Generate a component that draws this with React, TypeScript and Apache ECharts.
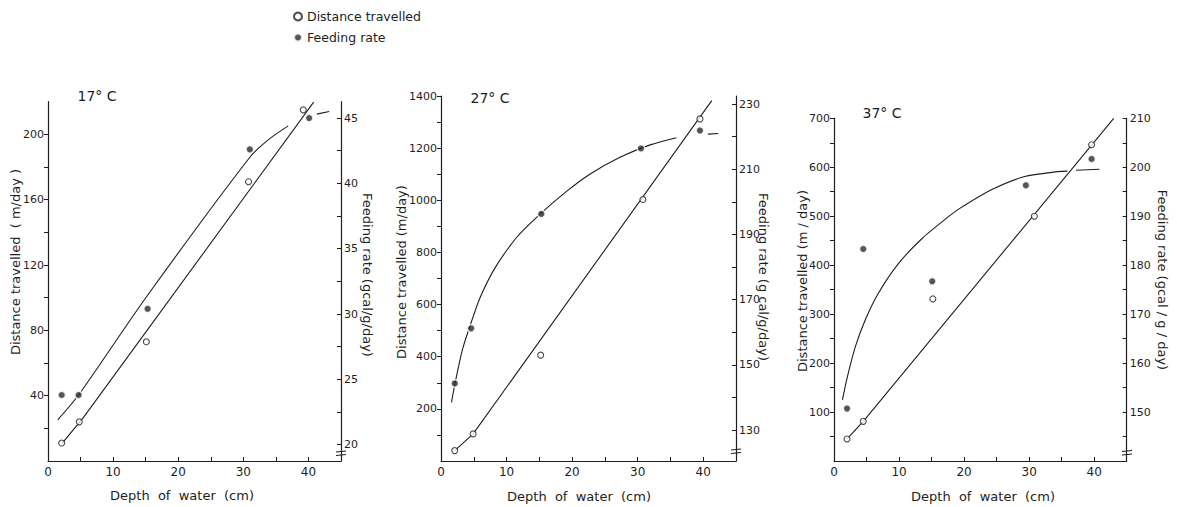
import React, { useEffect, useRef } from "react";
import * as echarts from "echarts";

type Pt = [number, number];

// Depth of water (cm) vs. distance travelled (m/day) — open circles
const dist17: Pt[] = [[2.1, 11], [4.8, 24], [15.1, 73], [30.8, 171], [39.2, 215]];
const dist27: Pt[] = [[2.1, 40], [4.9, 104], [15.2, 406], [30.8, 1003], [39.5, 1312]];
const dist37: Pt[] = [[2.0, 45], [4.5, 81], [15.2, 331], [30.8, 500], [39.6, 646]];

// Depth of water (cm) vs. feeding rate (gcal/g/day) — filled circles
const feed17: Pt[] = [[2.1, 23.8], [4.7, 23.8], [15.3, 30.4], [31.0, 42.6], [40.1, 45.0]];
const feed27: Pt[] = [[2.1, 144.3], [4.6, 161.2], [15.3, 196.3], [30.5, 216.4], [39.5, 221.9]];
const feed37: Pt[] = [[2.0, 150.7], [4.5, 183.3], [15.1, 176.7], [29.5, 196.3], [39.6, 201.7]];

// Hand-fitted curves (each inner list is one drawn stroke)
const distFit17: Pt[][] = [[[2.1, 10.5], [5.4, 26.4], [40.8, 219.7]]];
const distFit27: Pt[][] = [[[2.1, 40], [4.9, 104], [41.3, 1382]]];
const distFit37: Pt[][] = [[[2.0, 45], [4.5, 81], [43.0, 700]]];

const feedFit17: Pt[][] = [
  [[1.5, 21.9], [4.7, 23.8], [15.1, 31.3], [31.0, 42.0], [34.0, 43.4], [36.9, 44.4]],
  [[41.3, 45.3], [43.2, 45.5]],
];
const feedFit27: Pt[][] = [
  [[1.6, 138.5], [2.2, 144.9], [3.3, 154.9], [4.6, 163.0], [6.0, 170.8], [8.2, 179.6],
   [11.5, 189.0], [15.2, 196.4], [19.2, 203.3], [22.7, 208.5], [27.3, 213.7],
   [31.9, 217.5], [35.9, 219.7]],
  [[40.7, 220.8], [42.3, 221.0]],
];
const feedFit37: Pt[][] = [
  [[1.3, 152.5], [2.0, 156.9], [3.3, 163.4], [4.8, 168.8], [6.8, 174.2], [9.9, 180.3],
   [13.5, 185.4], [17.5, 189.8], [19.1, 191.4], [24.2, 195.4], [29.3, 198.1],
   [34.4, 199.1], [35.9, 199.2]],
  [[37.2, 199.4], [40.8, 199.6]],
];

// Axis ticks and labels
const depthTicks = [0, 5, 10, 15, 20, 25, 30, 35, 40];
const depthLabels = [0, 10, 20, 30, 40];

const distTicks17 = [20, 40, 60, 80, 100, 120, 140, 160, 180, 200];
const distLabels17 = [40, 80, 120, 160, 200];
const feedTicks17 = [20, 22.5, 25, 27.5, 30, 32.5, 35, 37.5, 40, 42.5, 45];
const feedLabels17 = [20, 25, 30, 35, 40, 45];

const distTicks27 = [100, 200, 300, 400, 500, 600, 700, 800, 900, 1000, 1100, 1200, 1300, 1400];
const distLabels27 = [200, 400, 600, 800, 1000, 1200, 1400];
const feedTicks27 = [130, 140, 150, 160, 170, 180, 190, 200, 210, 220, 230];
const feedLabels27 = [130, 150, 170, 190, 210, 230];

const distTicks37 = [50, 100, 150, 200, 250, 300, 350, 400, 450, 500, 550, 600, 650, 700];
const distLabels37 = [100, 200, 300, 400, 500, 600, 700];
const feedTicks37 = [145, 150, 155, 160, 165, 170, 175, 180, 185, 190, 195, 200, 205, 210];
const feedLabels37 = [150, 160, 170, 180, 190, 200, 210];

const FONT = "DejaVu Sans";
const INK = "#1e1e1e";

interface Panel {
  title: string;
  grid: { left: number; top: number; width: number; height: number };
  distMax: number;
  feedMin: number;
  feedMax: number;
  distTicks: number[];
  distLabels: number[];
  feedTicks: number[];
  feedLabels: number[];
  dist: Pt[];
  feed: Pt[];
  distFit: Pt[][];
  feedFit: Pt[][];
  titlePos: [number, number];
  leftName: string;
  leftNamePos: [number, number];
  rightName: string;
  rightNamePos: [number, number];
  xNamePos: [number, number];
}

const panels: Panel[] = [
  {
    title: "17° C",
    grid: { left: 48, top: 101.7, width: 293, height: 359.3 },
    distMax: 220, feedMin: 18.75, feedMax: 46.25,
    distTicks: distTicks17, distLabels: distLabels17,
    feedTicks: feedTicks17, feedLabels: feedLabels17,
    dist: dist17, feed: feed17, distFit: distFit17, feedFit: feedFit17,
    titlePos: [97, 96],
    leftName: "Distance travelled  ( m/day )", leftNamePos: [15, 262],
    rightName: "Feeding rate (gcal/g/day)", rightNamePos: [367, 275],
    xNamePos: [182, 495],
  },
  {
    title: "27° C",
    grid: { left: 441, top: 96, width: 295, height: 365 },
    distMax: 1400, feedMin: 120.5, feedMax: 232.5,
    distTicks: distTicks27, distLabels: distLabels27,
    feedTicks: feedTicks27, feedLabels: feedLabels27,
    dist: dist27, feed: feed27, distFit: distFit27, feedFit: feedFit27,
    titlePos: [490, 98],
    leftName: "Distance travelled (m/day)", leftNamePos: [401, 272],
    rightName: "Feeding rate (g cal/g/day)", rightNamePos: [763, 277],
    xNamePos: [579, 496],
  },
  {
    title: "37° C",
    grid: { left: 834, top: 118.3, width: 292.7, height: 342.7 },
    distMax: 700, feedMin: 140, feedMax: 210,
    distTicks: distTicks37, distLabels: distLabels37,
    feedTicks: feedTicks37, feedLabels: feedLabels37,
    dist: dist37, feed: feed37, distFit: distFit37, feedFit: feedFit37,
    titlePos: [882, 113],
    leftName: "Distance travelled (m / day)", leftNamePos: [802, 281],
    rightName: "Feeding rate (gcal / g / day)", rightNamePos: [1162, 280],
    xNamePos: [983, 496],
  },
];

// Axis-break marks on the right-hand axes
const breakMarks: { x: number; y: number }[] = [
  { x: 341, y: 452 },
  { x: 736, y: 450 },
  { x: 1127, y: 451.5 },
];

const plain = (v: number) => String(v);

function buildOption() {
  const grid: any[] = [];
  const xAxis: any[] = [];
  const yAxis: any[] = [];
  const series: any[] = [];
  const graphic: any[] = [];

  const axisLine = { show: true, lineStyle: { color: INK, width: 1.2 } };
  const labelStyle = { fontFamily: FONT, fontSize: 11, color: INK, formatter: plain };
  const nameStyle = { fontFamily: FONT, fontSize: 13, fill: INK, align: "center", verticalAlign: "middle" };

  panels.forEach((p, i) => {
    grid.push({ ...p.grid });
    xAxis.push({
      type: "value", gridIndex: i, min: 0, max: 45,
      axisLine: { ...axisLine, onZero: false },
      axisTick: { show: true, inside: true, length: 4, customValues: depthTicks, lineStyle: { color: INK } },
      axisLabel: { ...labelStyle, fontSize: 12, margin: 5, customValues: depthLabels },
      splitLine: { show: false },
    });
    yAxis.push({
      type: "value", gridIndex: i, position: "left", min: 0, max: p.distMax,
      axisLine,
      axisTick: { show: true, inside: false, length: 4, customValues: p.distTicks, lineStyle: { color: INK } },
      axisLabel: { ...labelStyle, margin: 4, customValues: p.distLabels },
      splitLine: { show: false },
    });
    yAxis.push({
      type: "value", gridIndex: i, position: "right", min: p.feedMin, max: p.feedMax,
      axisLine,
      axisTick: { show: true, inside: true, length: 4, customValues: p.feedTicks, lineStyle: { color: INK } },
      axisLabel: { ...labelStyle, margin: 3, customValues: p.feedLabels },
      splitLine: { show: false },
    });

    const yl = i * 2;
    const yr = i * 2 + 1;

    p.distFit.forEach((seg) => {
      series.push({
        type: "line", name: "fit", xAxisIndex: i, yAxisIndex: yl, data: seg,
        showSymbol: false, smooth: false, z: 2, silent: true,
        lineStyle: { color: INK, width: 1.1 },
      });
    });
    p.feedFit.forEach((seg) => {
      series.push({
        type: "line", name: "fit", xAxisIndex: i, yAxisIndex: yr, data: seg,
        showSymbol: false, smooth: 0.25, z: 2, silent: true,
        lineStyle: { color: INK, width: 1.1 },
      });
    });
    series.push({
      type: "scatter", name: "Distance travelled", xAxisIndex: i, yAxisIndex: yl,
      data: p.dist, symbol: "circle", symbolSize: 6, z: 5,
      itemStyle: { color: "#ffffff", borderColor: INK, borderWidth: 1.1 },
    });
    series.push({
      type: "scatter", name: "Feeding rate", xAxisIndex: i, yAxisIndex: yr,
      data: p.feed, symbol: "circle", symbolSize: 7.5, z: 5,
      itemStyle: { color: "#2a2a2a", borderColor: "#ffffff", borderWidth: 1.5 },
    });

    graphic.push({
      type: "text", x: p.titlePos[0], y: p.titlePos[1],
      style: { ...nameStyle, text: p.title, fontSize: 14 },
    });
    graphic.push({
      type: "text", x: p.leftNamePos[0], y: p.leftNamePos[1], rotation: Math.PI / 2,
      style: { ...nameStyle, text: p.leftName },
    });
    graphic.push({
      type: "text", x: p.rightNamePos[0], y: p.rightNamePos[1], rotation: -Math.PI / 2,
      style: { ...nameStyle, text: p.rightName },
    });
    graphic.push({
      type: "text", x: p.xNamePos[0], y: p.xNamePos[1],
      style: { ...nameStyle, text: "Depth  of  water  (cm)" },
    });
  });

  breakMarks.forEach((b) => {
    graphic.push({
      type: "line", shape: { x1: b.x - 5, y1: b.y, x2: b.x + 5, y2: b.y - 1 },
      style: { stroke: INK, lineWidth: 1.2 },
    });
    graphic.push({
      type: "line", shape: { x1: b.x - 5, y1: b.y + 3.5, x2: b.x + 5, y2: b.y + 2.5 },
      style: { stroke: INK, lineWidth: 1.2 },
    });
  });

  return {
    animation: false,
    backgroundColor: "#ffffff",
    legend: {
      data: ["Distance travelled", "Feeding rate"],
      orient: "vertical", left: 288, top: 5,
      itemWidth: 8, itemHeight: 8, itemGap: 8,
      textStyle: { fontFamily: FONT, fontSize: 12.5, color: INK },
      selectedMode: false,
    },
    grid,
    xAxis,
    yAxis,
    series,
    graphic,
  };
}

export default function App() {
  const ref = useRef<HTMLDivElement>(null);
  useEffect(() => {
    if (!ref.current) return;
    const chart = echarts.init(ref.current, null, { renderer: "svg" });
    chart.setOption(buildOption() as any);
    return () => chart.dispose();
  }, []);
  return (
    <div
      ref={ref}
      style={{ position: "fixed", left: 0, top: 0, width: 1177, height: 507, background: "#fff" }}
    />
  );
}
